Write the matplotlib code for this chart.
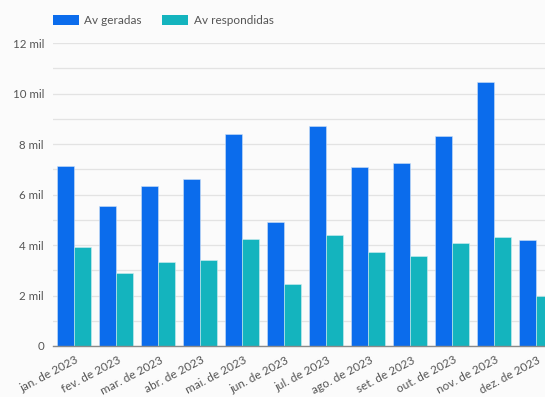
import matplotlib
matplotlib.use("Agg")
import matplotlib.pyplot as plt
import numpy as np
from matplotlib.ticker import MultipleLocator, FixedLocator
from matplotlib.patches import Patch

categories = ["jan. de 2023", "fev. de 2023", "mar. de 2023", "abr. de 2023",
              "mai. de 2023", "jun. de 2023", "jul. de 2023", "ago. de 2023",
              "set. de 2023", "out. de 2023", "nov. de 2023", "dez. de 2023"]
geradas = [7130, 5560, 6340, 6600, 8380, 4900, 8700, 7100, 7250, 8310, 10460, 4180]
respondidas = [3940, 2900, 3310, 3390, 4230, 2470, 4390, 3740, 3550, 4070, 4310, 1970]
series_names = ["Av geradas", "Av respondidas"]
ytick_vals = [0, 2000, 4000, 6000, 8000, 10000, 12000]
ytick_labels = ["0", "2 mil", "4 mil", "6 mil", "8 mil", "10 mil", "12 mil"]

c_blue = "#0b6cec"
c_teal = "#14b4be"
bg = "#fbfbfb"

plt.rcParams['font.family'] = ['Lato', 'DejaVu Sans']

fig = plt.figure(figsize=(5.45, 3.97), dpi=100, facecolor=bg)
ax = fig.add_axes([53/545, 51/397, 504/545, 303/397], facecolor=bg)

x = np.arange(len(categories))
w = 0.4
ax.bar(x - w/2, geradas, width=w, color=c_blue, edgecolor="#cfe0f5", linewidth=0.4, zorder=3)
ax.bar(x + w/2, respondidas, width=w, color=c_teal, edgecolor="#d0eef0", linewidth=0.4, zorder=3)

ax.set_xlim(-0.5, 11.5)
ax.set_ylim(0, 12000)
ax.yaxis.set_major_locator(FixedLocator(ytick_vals))
ax.set_yticklabels(ytick_labels)
ax.yaxis.set_minor_locator(MultipleLocator(1000))
ax.grid(axis='y', which='both', color="#e3e3e3", linewidth=0.9, zorder=0)
ax.set_axisbelow(True)

for s in ["top", "right", "left"]:
    ax.spines[s].set_visible(False)
ax.spines["bottom"].set_color("#8a8a8a")
ax.spines["bottom"].set_linewidth(1.0)
ax.spines["bottom"].set_zorder(4)

ax.tick_params(axis='y', which='both', length=0, pad=6.5, labelsize=8.3, labelcolor="#555555")
ax.set_xticks(x)
ax.set_xticklabels(categories, rotation=28, ha='right', rotation_mode='anchor',
                   fontsize=8.5, color="#555555")
ax.tick_params(axis='x', length=0, pad=6)
for lab in ax.get_xticklabels():
    lab.set_transform(lab.get_transform() + matplotlib.transforms.ScaledTranslation(1/72, 0, fig.dpi_scale_trans))

handles = [Patch(facecolor=c_blue, edgecolor="none"), Patch(facecolor=c_teal, edgecolor="none")]
fig.legend(handles, series_names, loc='upper left', bbox_to_anchor=(42/545, 1 - 4/397),
           ncol=2, frameon=False, fontsize=8.5, handlelength=2.2, handleheight=1.0,
           columnspacing=1.7, handletextpad=0.5, labelcolor="#555555")

fig.savefig("out.png", dpi=100, facecolor=bg)
